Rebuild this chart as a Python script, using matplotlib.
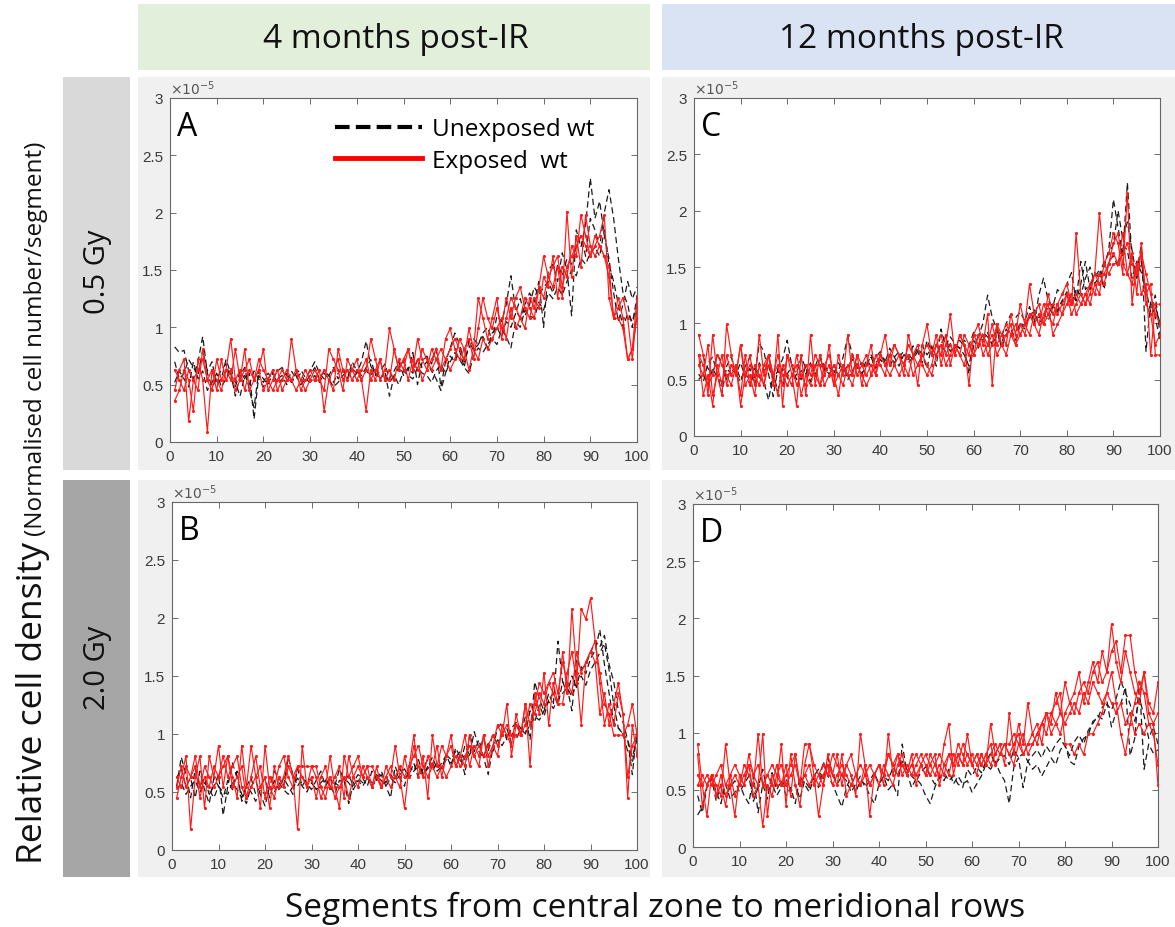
import matplotlib
matplotlib.use("Agg")
from matplotlib import pyplot as plt
from matplotlib.patches import Rectangle
from matplotlib.lines import Line2D
from matplotlib.ticker import FuncFormatter
import numpy as np

# segment index along the meridian
segments = np.arange(1, 101)

# cell density per segment, in units of 1e-5
# A: 4 months post-IR, 0.5 Gy
a_unexp = [
    [0.83, 0.78, 0.80, 0.62, 0.55, 0.70, 0.92, 0.60, 0.48, 0.55,
     0.63, 0.68, 0.55, 0.48, 0.62, 0.55, 0.60, 0.20, 0.58, 0.52,
     0.60, 0.55, 0.62, 0.65, 0.58, 0.52, 0.60, 0.63, 0.56, 0.62,
     0.70, 0.60, 0.55, 0.58, 0.65, 0.55, 0.62, 0.58, 0.64, 0.60,
     0.70, 0.88, 0.66, 0.60, 0.55, 0.62, 0.40, 0.58, 0.65, 0.70,
     0.62, 0.78, 0.50, 0.70, 0.75, 0.68, 0.82, 0.48, 0.70, 0.82,
     0.95, 0.85, 0.70, 0.82, 0.90, 0.85, 0.95, 1.00, 0.88, 1.10,
     1.05, 1.20, 1.45, 1.15, 1.08, 1.20, 1.30, 1.22, 1.40, 1.00,
     1.50, 1.55, 1.40, 1.65, 1.50, 1.10, 1.85, 1.70, 1.90, 2.30,
     1.95, 2.10, 1.80, 1.60, 1.30, 1.05, 1.20, 1.40, 1.25, 1.35],
    [0.70, 0.55, 0.60, 0.72, 0.65, 0.58, 0.80, 0.62, 0.70, 0.50,
     0.55, 0.72, 0.60, 0.40, 0.58, 0.65, 0.45, 0.30, 0.62, 0.55,
     0.50, 0.60, 0.55, 0.58, 0.50, 0.62, 0.55, 0.60, 0.52, 0.58,
     0.65, 0.55, 0.62, 0.58, 0.52, 0.60, 0.65, 0.55, 0.70, 0.62,
     0.58, 0.65, 0.72, 0.58, 0.62, 0.68, 0.55, 0.62, 0.70, 0.58,
     0.65, 0.60, 0.72, 0.65, 0.70, 0.62, 0.55, 0.45, 0.60, 0.75,
     0.70, 0.80, 0.65, 0.88, 0.80, 0.85, 0.92, 0.82, 0.95, 1.00,
     0.92, 1.05, 1.00, 1.12, 1.25, 1.10, 1.20, 1.35, 1.28, 1.35,
     1.40, 1.30, 1.55, 1.45, 1.60, 1.55, 1.70, 1.80, 1.62, 1.95,
     1.85, 1.70, 2.00, 2.20, 1.95, 1.60, 1.30, 1.20, 1.00, 1.28],
    [0.52, 0.62, 0.55, 0.48, 0.70, 0.55, 0.62, 0.45, 0.52, 0.60,
     0.48, 0.55, 0.65, 0.52, 0.40, 0.58, 0.50, 0.62, 0.55, 0.48,
     0.55, 0.62, 0.50, 0.55, 0.60, 0.52, 0.58, 0.50, 0.55, 0.52,
     0.58, 0.52, 0.60, 0.55, 0.48, 0.52, 0.58, 0.62, 0.55, 0.60,
     0.55, 0.62, 0.58, 0.65, 0.55, 0.60, 0.52, 0.58, 0.50, 0.62,
     0.58, 0.55, 0.65, 0.60, 0.58, 0.52, 0.62, 0.68, 0.60, 0.70,
     0.78, 0.72, 0.65, 0.60, 0.75, 0.82, 0.78, 0.85, 0.90, 0.85,
     0.98, 0.92, 0.82, 1.05, 1.00, 1.15, 1.10, 1.08, 1.22, 1.15,
     1.30, 1.25, 1.35, 1.28, 1.40, 1.50, 1.45, 1.60, 1.55, 1.65,
     1.70, 1.62, 1.85, 1.55, 1.40, 1.20, 1.00, 1.12, 1.05, 1.22],
]
a_exp = [
    [0.36, 0.45, 0.63, 0.54, 0.27, 0.72, 0.54, 0.09, 0.63, 0.45,
     0.72, 0.54, 0.63, 0.45, 0.54, 0.81, 0.45, 0.54, 0.63, 0.45,
     0.54, 0.63, 0.45, 0.54, 0.63, 0.54, 0.45, 0.54, 0.63, 0.54,
     0.54, 0.63, 0.27, 0.54, 0.63, 0.72, 0.54, 0.63, 0.54, 0.63,
     0.54, 0.27, 0.63, 0.54, 0.72, 0.54, 0.63, 0.54, 0.72, 0.63,
     0.81, 0.63, 0.72, 0.54, 0.63, 0.72, 0.81, 0.63, 0.72, 0.63,
     0.72, 0.90, 0.81, 0.63, 0.81, 0.72, 0.90, 0.81, 0.90, 0.99,
     1.08, 0.90, 1.17, 0.99, 1.08, 1.26, 1.17, 1.08, 1.35, 1.26,
     1.44, 1.53, 1.62, 1.35, 1.53, 1.62, 1.71, 1.80, 1.71, 1.62,
     1.71, 1.80, 1.98, 1.26, 1.08, 1.08, 0.99, 0.72, 0.81, 1.08],
    [0.45, 0.63, 0.72, 0.18, 0.54, 0.63, 0.72, 0.54, 0.45, 0.72,
     0.54, 0.63, 0.54, 0.81, 0.54, 0.63, 0.72, 0.54, 0.63, 0.81,
     0.45, 0.54, 0.63, 0.45, 0.54, 0.54, 0.63, 0.45, 0.54, 0.63,
     0.54, 0.54, 0.63, 0.54, 0.45, 0.81, 0.63, 0.54, 0.63, 0.54,
     0.63, 0.72, 0.54, 0.63, 0.72, 0.54, 0.54, 0.81, 0.63, 0.72,
     0.54, 0.72, 0.63, 0.81, 0.72, 0.63, 0.72, 0.81, 0.72, 0.81,
     0.90, 0.81, 0.72, 0.99, 0.81, 1.26, 1.08, 0.90, 1.08, 1.26,
     0.90, 1.08, 1.26, 1.17, 1.08, 0.99, 1.26, 1.17, 1.35, 1.62,
     1.44, 1.35, 1.53, 1.26, 2.01, 1.44, 1.80, 1.53, 1.98, 1.71,
     1.62, 1.71, 1.62, 1.44, 1.08, 1.17, 1.26, 1.08, 0.72, 1.17],
    [0.63, 0.54, 0.45, 0.63, 0.54, 0.45, 0.81, 0.54, 0.63, 0.54,
     0.45, 0.63, 0.90, 0.54, 0.63, 0.45, 0.63, 0.54, 0.72, 0.63,
     0.54, 0.45, 0.54, 0.63, 0.54, 0.90, 0.63, 0.54, 0.45, 0.54,
     0.63, 0.54, 0.45, 0.81, 0.72, 0.63, 0.45, 0.72, 0.63, 0.72,
     0.54, 0.63, 0.90, 0.72, 0.54, 0.63, 0.99, 0.81, 0.63, 0.72,
     0.81, 0.63, 0.90, 0.72, 0.63, 0.81, 0.72, 0.63, 0.90, 0.99,
     0.81, 0.72, 0.81, 0.90, 0.72, 0.99, 1.26, 1.08, 0.99, 1.17,
     0.99, 1.26, 1.08, 1.26, 1.35, 1.17, 1.08, 1.26, 1.17, 1.44,
     1.35, 1.62, 1.26, 1.53, 1.44, 1.71, 1.62, 1.98, 1.80, 1.62,
     1.80, 1.71, 1.62, 1.53, 1.08, 1.26, 1.08, 0.72, 0.81, 1.26],
]

# B: 4 months post-IR, 2.0 Gy
b_unexp = [
    [0.55, 0.80, 0.65, 0.45, 0.70, 0.55, 0.62, 0.48, 0.55, 0.65,
     0.30, 0.55, 0.75, 0.62, 0.48, 0.40, 0.55, 0.60, 0.48, 0.38,
     0.55, 0.68, 0.62, 0.55, 0.80, 0.65, 0.55, 0.62, 0.58, 0.52,
     0.60, 0.68, 0.55, 0.62, 0.55, 0.70, 0.60, 0.40, 0.58, 0.65,
     0.62, 0.55, 0.68, 0.60, 0.65, 0.55, 0.45, 0.72, 0.62, 0.55,
     0.72, 0.68, 0.78, 0.65, 0.72, 0.80, 0.70, 0.75, 0.82, 0.72,
     0.88, 0.80, 0.65, 1.00, 0.85, 0.95, 0.80, 0.65, 0.88, 1.05,
     1.10, 0.95, 1.05, 1.10, 1.00, 1.15, 0.95, 1.45, 1.30, 1.20,
     1.35, 1.25, 1.80, 1.45, 1.40, 1.20, 1.65, 1.55, 1.60, 1.70,
     1.80, 1.75, 1.85, 1.60, 1.45, 1.20, 1.10, 0.95, 0.65, 1.05],
    [0.62, 0.70, 0.55, 0.62, 0.45, 0.68, 0.52, 0.40, 0.62, 0.55,
     0.45, 0.60, 0.52, 0.68, 0.42, 0.55, 0.62, 0.48, 0.55, 0.62,
     0.45, 0.60, 0.52, 0.62, 0.55, 0.48, 0.70, 0.55, 0.62, 0.60,
     0.52, 0.58, 0.62, 0.55, 0.48, 0.60, 0.58, 0.65, 0.55, 0.62,
     0.58, 0.62, 0.55, 0.60, 0.68, 0.58, 0.65, 0.60, 0.70, 0.62,
     0.65, 0.75, 0.62, 0.70, 0.78, 0.68, 0.75, 0.70, 0.82, 0.78,
     0.85, 0.75, 0.90, 0.82, 1.02, 0.88, 0.95, 0.85, 1.00, 0.90,
     1.00, 1.05, 0.92, 1.10, 1.05, 1.00, 1.20, 1.10, 1.25, 1.15,
     1.30, 1.35, 1.25, 1.45, 1.35, 1.50, 1.40, 1.58, 1.52, 1.65,
     1.72, 1.90, 1.60, 1.35, 1.10, 1.05, 1.00, 0.85, 0.75, 1.00],
    [0.52, 0.58, 0.48, 0.55, 0.60, 0.50, 0.58, 0.52, 0.45, 0.55,
     0.50, 0.48, 0.58, 0.52, 0.45, 0.55, 0.50, 0.42, 0.52, 0.48,
     0.55, 0.50, 0.58, 0.52, 0.48, 0.55, 0.62, 0.55, 0.50, 0.58,
     0.52, 0.55, 0.60, 0.52, 0.58, 0.55, 0.62, 0.58, 0.52, 0.60,
     0.55, 0.62, 0.58, 0.65, 0.60, 0.55, 0.62, 0.58, 0.65, 0.70,
     0.62, 0.68, 0.72, 0.65, 0.70, 0.75, 0.68, 0.72, 0.78, 0.75,
     0.80, 0.85, 0.78, 0.82, 0.90, 0.85, 0.80, 0.92, 0.85, 0.95,
     0.90, 0.98, 1.02, 0.95, 1.05, 1.00, 1.08, 1.15, 1.12, 1.20,
     1.28, 1.22, 1.30, 1.35, 1.40, 1.32, 1.45, 1.50, 1.42, 1.55,
     1.62, 1.70, 1.78, 1.55, 1.25, 1.05, 1.00, 0.95, 0.80, 0.95],
]
b_exp = [
    [0.45, 0.63, 0.81, 0.18, 0.63, 0.81, 0.36, 0.81, 0.63, 0.90,
     0.54, 0.81, 0.63, 0.45, 0.90, 0.54, 0.90, 0.63, 0.36, 0.90,
     0.54, 0.45, 0.63, 0.54, 0.72, 0.63, 0.18, 0.90, 0.54, 0.72,
     0.63, 0.45, 0.54, 0.81, 0.54, 0.36, 0.81, 0.63, 0.72, 0.81,
     0.63, 0.72, 0.54, 0.63, 0.54, 0.72, 0.63, 0.90, 0.63, 0.36,
     0.72, 0.99, 0.63, 0.81, 0.45, 0.99, 0.72, 0.90, 0.81, 0.99,
     0.72, 0.81, 0.99, 0.72, 0.90, 0.81, 0.99, 0.72, 0.90, 1.08,
     0.99, 1.26, 0.81, 1.08, 0.99, 1.26, 0.72, 1.35, 1.17, 1.53,
     1.08, 1.44, 1.26, 1.71, 1.35, 2.08, 1.53, 1.08, 1.62, 1.71,
     1.62, 1.17, 1.35, 1.08, 1.26, 1.44, 1.17, 0.45, 1.08, 0.81],
    [0.54, 0.72, 0.54, 0.63, 0.72, 0.45, 0.63, 0.54, 0.72, 0.63,
     0.81, 0.63, 0.72, 0.81, 0.54, 0.45, 0.54, 0.63, 0.72, 0.45,
     0.63, 0.54, 0.72, 0.81, 0.63, 0.54, 0.72, 0.72, 0.72, 0.72,
     0.72, 0.54, 0.45, 0.63, 0.45, 0.54, 0.63, 0.45, 0.63, 0.72,
     0.63, 0.72, 0.72, 0.63, 0.54, 0.63, 0.54, 0.63, 0.72, 0.63,
     0.72, 0.81, 0.90, 0.72, 0.63, 0.72, 0.63, 0.72, 0.63, 0.72,
     0.81, 0.72, 0.81, 0.90, 0.81, 0.90, 0.81, 0.90, 0.99, 0.90,
     0.99, 1.08, 0.99, 0.99, 0.99, 1.08, 1.26, 1.17, 1.35, 1.26,
     1.44, 1.35, 1.26, 1.26, 1.53, 1.71, 1.44, 2.08, 1.99, 2.17,
     1.80, 1.53, 1.26, 1.17, 0.99, 0.99, 0.99, 1.08, 1.26, 0.99],
    [0.63, 0.54, 0.72, 0.63, 0.81, 0.54, 0.72, 0.63, 0.54, 0.63,
     0.72, 0.81, 0.54, 0.63, 0.72, 0.45, 0.63, 0.81, 0.54, 0.63,
     0.36, 0.72, 0.54, 0.63, 0.81, 0.63, 0.72, 0.63, 0.54, 0.63,
     0.45, 0.63, 0.72, 0.54, 0.63, 0.72, 0.45, 0.81, 0.63, 0.54,
     0.72, 0.63, 0.54, 0.72, 0.54, 0.63, 0.72, 0.63, 0.54, 0.81,
     0.63, 0.90, 0.72, 0.63, 0.81, 0.72, 0.90, 0.63, 0.81, 0.90,
     0.72, 0.81, 0.72, 0.99, 0.81, 0.72, 0.99, 0.81, 0.90, 0.81,
     1.08, 0.99, 0.90, 1.17, 0.99, 1.26, 1.08, 1.26, 1.44, 1.35,
     1.44, 1.53, 1.35, 1.62, 1.44, 1.35, 1.71, 1.53, 1.62, 1.71,
     1.80, 1.44, 1.08, 1.26, 1.08, 1.35, 1.17, 0.63, 0.90, 0.99],
]

# C: 12 months post-IR, 0.5 Gy
c_unexp = [
    [0.55, 0.48, 0.65, 0.70, 0.55, 0.38, 0.62, 0.70, 0.55, 0.48,
     0.62, 0.70, 0.52, 0.82, 0.75, 0.55, 0.35, 0.60, 0.68, 0.85,
     0.62, 0.55, 0.70, 0.60, 0.48, 0.62, 0.72, 0.60, 0.55, 0.62,
     0.58, 0.70, 0.88, 0.72, 0.62, 0.55, 0.68, 0.62, 0.70, 0.75,
     0.65, 0.78, 0.70, 0.62, 0.72, 0.68, 0.80, 0.75, 0.65, 0.85,
     0.75, 0.62, 0.95, 0.80, 0.88, 0.82, 0.78, 0.85, 0.80, 0.92,
     0.88, 1.00, 1.25, 1.05, 0.95, 0.88, 1.00, 1.08, 1.05, 1.10,
     1.02, 1.15, 1.00, 1.25, 1.40, 1.20, 1.15, 1.30, 1.25, 1.35,
     1.45, 1.20, 1.35, 1.55, 1.30, 1.45, 1.40, 1.50, 1.65, 2.10,
     1.85, 1.60, 2.25, 1.55, 1.45, 1.70, 0.75, 1.20, 1.05, 0.85],
    [0.50, 0.55, 0.45, 0.60, 0.52, 0.48, 0.60, 0.55, 0.62, 0.50,
     0.58, 0.45, 0.60, 0.52, 0.48, 0.32, 0.55, 0.40, 0.60, 0.52,
     0.45, 0.55, 0.50, 0.62, 0.48, 0.55, 0.60, 0.65, 0.52, 0.58,
     0.55, 0.62, 0.50, 0.58, 0.65, 0.55, 0.62, 0.70, 0.60, 0.68,
     0.62, 0.72, 0.65, 0.70, 0.75, 0.65, 0.70, 0.78, 0.72, 0.60,
     0.80, 0.70, 0.82, 0.88, 0.75, 0.80, 0.78, 0.72, 0.62, 0.85,
     0.78, 0.92, 0.88, 0.82, 0.95, 0.78, 0.90, 0.95, 0.85, 1.00,
     0.95, 1.08, 1.10, 1.00, 1.05, 1.15, 1.08, 1.12, 1.20, 1.28,
     1.15, 1.30, 1.25, 1.40, 1.50, 1.35, 1.42, 1.55, 1.62, 1.70,
     2.00, 1.75, 1.90, 1.65, 1.40, 1.55, 1.20, 1.05, 1.15, 1.00],
    [0.62, 0.70, 0.60, 0.55, 0.72, 0.65, 0.50, 0.60, 0.55, 0.65,
     0.52, 0.60, 0.45, 0.65, 0.58, 0.62, 0.50, 0.58, 0.45, 0.55,
     0.62, 0.50, 0.58, 0.55, 0.65, 0.52, 0.70, 0.58, 0.62, 0.55,
     0.65, 0.58, 0.62, 0.68, 0.60, 0.65, 0.62, 0.72, 0.65, 0.70,
     0.68, 0.62, 0.70, 0.75, 0.65, 0.72, 0.68, 0.75, 0.80, 0.72,
     0.78, 0.72, 0.80, 0.75, 0.82, 0.78, 0.85, 0.80, 0.55, 0.80,
     0.88, 0.85, 0.92, 0.80, 0.90, 0.82, 0.95, 0.88, 0.92, 1.00,
     0.98, 1.05, 1.12, 1.05, 1.10, 1.02, 1.15, 1.10, 1.20, 1.18,
     1.25, 1.20, 1.55, 1.30, 1.35, 1.40, 1.48, 1.30, 1.55, 1.60,
     1.50, 1.70, 1.65, 1.40, 1.55, 1.45, 1.30, 1.10, 1.25, 0.90],
]
c_exp = [
    [0.90, 0.72, 0.36, 0.90, 0.54, 0.36, 0.99, 0.72, 0.54, 0.81,
     0.54, 0.72, 0.45, 0.90, 0.54, 0.72, 0.45, 0.90, 0.27, 0.72,
     0.54, 0.27, 0.72, 0.36, 0.90, 0.45, 0.72, 0.54, 0.81, 0.45,
     0.72, 0.54, 0.90, 0.54, 0.72, 0.45, 0.63, 0.81, 0.54, 0.72,
     0.90, 0.63, 0.81, 0.72, 0.54, 0.90, 0.72, 0.45, 0.81, 0.99,
     0.72, 0.90, 0.63, 0.81, 1.08, 0.72, 0.90, 0.81, 0.45, 0.90,
     0.99, 0.81, 1.08, 0.45, 0.99, 0.90, 0.81, 1.08, 0.90, 1.17,
     0.99, 1.35, 1.08, 1.17, 0.99, 1.26, 1.08, 1.17, 1.26, 1.35,
     1.17, 1.80, 1.26, 1.17, 1.35, 1.44, 1.98, 1.53, 1.62, 1.80,
     1.71, 1.44, 2.16, 1.17, 1.53, 1.26, 1.35, 0.72, 1.17, 1.17],
    [0.72, 0.63, 0.45, 0.54, 0.72, 0.63, 0.54, 0.45, 0.63, 0.27,
     0.54, 0.63, 0.54, 0.45, 0.63, 0.72, 0.54, 0.63, 0.45, 0.72,
     0.63, 0.45, 0.54, 0.63, 0.54, 0.72, 0.63, 0.45, 0.54, 0.63,
     0.54, 0.63, 0.54, 0.72, 0.54, 0.63, 0.72, 0.54, 0.63, 0.72,
     0.63, 0.72, 0.81, 0.72, 0.63, 0.81, 0.72, 0.63, 0.72, 0.81,
     0.72, 0.81, 0.90, 0.72, 0.81, 0.72, 0.90, 0.81, 0.72, 0.90,
     0.81, 0.90, 0.81, 0.99, 0.81, 0.90, 0.99, 0.90, 0.99, 0.90,
     0.99, 1.08, 0.99, 1.08, 0.99, 1.08, 1.17, 1.08, 1.17, 1.26,
     1.17, 1.26, 1.17, 1.26, 1.35, 1.26, 1.44, 1.35, 1.53, 1.62,
     1.53, 1.62, 1.71, 1.53, 1.44, 1.62, 1.44, 1.26, 1.08, 0.99],
    [0.63, 0.54, 0.81, 0.36, 0.54, 0.72, 0.45, 0.63, 0.54, 0.81,
     0.45, 0.54, 0.36, 0.63, 0.45, 0.72, 0.54, 0.36, 0.63, 0.54,
     0.45, 0.72, 0.54, 0.45, 0.63, 0.54, 0.45, 0.63, 0.72, 0.54,
     0.36, 0.63, 0.54, 0.45, 0.63, 0.54, 0.45, 0.54, 0.72, 0.63,
     0.54, 0.72, 0.63, 0.54, 0.63, 0.72, 0.54, 0.63, 0.72, 0.63,
     0.54, 0.72, 0.81, 0.63, 0.72, 0.81, 0.72, 0.63, 0.81, 0.72,
     0.90, 0.72, 0.81, 0.90, 0.72, 0.81, 0.90, 0.99, 0.81, 0.90,
     0.99, 0.90, 1.08, 0.99, 1.17, 1.08, 0.99, 1.17, 1.08, 1.26,
     1.08, 1.17, 1.26, 1.17, 1.26, 1.44, 1.35, 1.44, 1.53, 1.71,
     1.80, 1.53, 1.44, 1.62, 1.26, 1.71, 1.17, 1.08, 0.81, 0.90],
    [0.72, 0.36, 0.54, 0.27, 0.63, 0.45, 0.72, 0.54, 0.63, 0.36,
     0.72, 0.45, 0.63, 0.54, 0.45, 0.63, 0.54, 0.72, 0.54, 0.45,
     0.54, 0.63, 0.36, 0.54, 0.45, 0.63, 0.45, 0.54, 0.63, 0.45,
     0.54, 0.45, 0.63, 0.54, 0.72, 0.63, 0.54, 0.63, 0.54, 0.72,
     0.63, 0.54, 0.63, 0.72, 0.63, 0.54, 0.72, 0.81, 0.63, 0.54,
     0.63, 0.81, 0.72, 0.90, 0.63, 0.81, 0.72, 0.90, 0.81, 0.72,
     0.81, 0.90, 0.72, 0.81, 0.99, 0.81, 0.72, 0.90, 0.81, 0.99,
     0.90, 1.08, 0.99, 0.90, 1.08, 1.17, 0.90, 0.99, 1.08, 1.17,
     1.26, 1.08, 1.17, 1.26, 1.17, 1.35, 1.26, 1.53, 1.44, 1.53,
     1.53, 1.80, 1.44, 1.35, 1.53, 1.62, 1.26, 1.35, 0.72, 0.72],
]

# D: 12 months post-IR, 2.0 Gy
d_unexp = [
    [0.28, 0.35, 0.55, 0.62, 0.48, 0.38, 0.55, 0.42, 0.48, 0.55,
     0.45, 0.38, 0.62, 0.30, 0.55, 0.42, 0.65, 0.50, 0.58, 0.45,
     0.52, 0.38, 0.62, 0.55, 0.48, 0.60, 0.52, 0.75, 0.62, 0.55,
     0.45, 0.35, 0.52, 0.62, 0.48, 0.58, 0.55, 0.45, 0.38, 0.55,
     0.62, 0.50, 0.55, 0.45, 0.90, 0.65, 0.52, 0.60, 0.55, 0.45,
     0.38, 0.52, 0.62, 0.58, 0.68, 0.55, 0.62, 0.55, 0.58, 0.48,
     0.55, 0.62, 0.72, 0.68, 0.75, 0.65, 0.58, 0.38, 0.70, 0.78,
     0.52, 0.75, 0.68, 0.72, 0.62, 0.70, 0.78, 0.72, 0.85, 0.90,
     0.75, 0.72, 0.88, 0.95, 0.98, 1.10, 1.12, 1.22, 1.28, 1.05,
     1.18, 1.25, 1.40, 0.80, 0.95, 1.45, 0.68, 0.90, 0.82, 0.85],
    [0.45, 0.30, 0.52, 0.60, 0.40, 0.55, 0.45, 0.52, 0.58, 0.48,
     0.55, 0.62, 0.40, 0.52, 0.68, 0.48, 0.55, 0.45, 0.52, 0.60,
     0.48, 0.55, 0.42, 0.58, 0.52, 0.62, 0.68, 0.58, 0.78, 0.65,
     0.55, 0.62, 0.58, 0.48, 0.55, 0.62, 0.52, 0.58, 0.65, 0.55,
     0.62, 0.58, 0.70, 0.62, 0.75, 0.68, 0.62, 0.58, 0.65, 0.70,
     0.62, 0.55, 0.60, 0.65, 0.58, 0.62, 0.55, 0.52, 0.68, 0.62,
     0.70, 0.65, 0.75, 0.82, 0.72, 0.78, 0.80, 0.72, 0.85, 0.78,
     0.82, 0.75, 0.80, 0.85, 0.78, 0.88, 0.82, 0.90, 0.95, 0.88,
     0.80, 0.92, 0.98, 0.90, 1.02, 1.08, 1.15, 1.12, 1.25, 1.20,
     1.30, 1.45, 1.35, 1.25, 1.10, 1.30, 1.15, 0.95, 1.05, 0.90],
]
d_exp = [
    [0.90, 0.54, 0.27, 0.63, 0.54, 0.45, 0.90, 0.54, 0.27, 0.63,
     0.54, 0.81, 0.63, 0.54, 0.99, 0.27, 0.63, 0.54, 0.90, 0.36,
     0.81, 0.54, 0.36, 0.72, 0.90, 0.63, 0.27, 0.54, 0.72, 0.63,
     0.81, 0.54, 0.72, 0.63, 0.45, 0.99, 0.72, 0.27, 0.63, 0.72,
     0.54, 0.99, 0.63, 0.81, 0.72, 0.63, 0.81, 0.54, 0.72, 0.63,
     0.81, 0.72, 0.63, 0.90, 1.08, 0.63, 0.81, 0.72, 0.99, 0.72,
     0.63, 0.81, 0.72, 1.08, 0.81, 0.90, 0.72, 1.17, 0.81, 1.08,
     0.90, 1.26, 0.99, 1.08, 0.90, 1.17, 1.08, 1.35, 1.17, 1.44,
     1.26, 1.35, 1.53, 1.26, 1.44, 1.62, 1.44, 1.71, 1.53, 1.95,
     1.62, 1.44, 1.71, 1.53, 1.35, 1.26, 1.53, 1.17, 1.08, 0.54],
    [0.81, 0.36, 0.54, 0.63, 0.45, 0.54, 0.36, 0.63, 0.45, 0.54,
     0.63, 0.72, 0.45, 0.54, 0.18, 0.54, 0.45, 0.63, 0.54, 0.72,
     0.45, 0.81, 0.54, 0.63, 0.72, 0.54, 0.63, 0.54, 0.81, 0.63,
     0.54, 0.81, 0.45, 0.54, 0.63, 0.54, 0.72, 0.54, 0.63, 0.54,
     0.72, 0.63, 0.54, 0.72, 0.81, 0.63, 0.72, 0.81, 0.72, 0.63,
     0.72, 0.81, 0.54, 0.72, 0.63, 0.81, 0.72, 0.90, 0.81, 0.72,
     0.81, 0.72, 0.81, 0.90, 0.72, 0.81, 0.90, 0.81, 0.72, 0.90,
     0.99, 0.81, 0.90, 0.99, 1.08, 0.99, 1.17, 1.08, 0.99, 1.17,
     1.26, 1.17, 1.35, 1.44, 1.35, 1.53, 1.62, 1.44, 1.53, 1.71,
     1.80, 1.53, 1.85, 1.85, 1.53, 1.35, 1.53, 1.26, 1.17, 1.44],
    [0.54, 0.63, 0.54, 0.63, 0.45, 0.63, 0.45, 0.54, 0.63, 0.54,
     0.72, 0.63, 0.54, 0.99, 0.54, 0.63, 0.54, 0.72, 0.54, 0.63,
     0.72, 0.81, 0.54, 0.63, 0.54, 0.63, 0.54, 0.63, 0.72, 0.54,
     0.63, 0.72, 0.63, 0.54, 0.63, 0.54, 0.63, 0.54, 0.63, 0.72,
     0.63, 0.81, 0.72, 0.81, 0.63, 0.72, 0.63, 0.72, 0.81, 0.72,
     0.63, 0.72, 0.81, 0.72, 0.81, 0.72, 0.90, 0.81, 0.72, 0.81,
     0.72, 0.81, 0.72, 0.81, 0.90, 0.81, 0.90, 0.81, 0.90, 0.99,
     0.81, 0.90, 0.99, 0.90, 1.08, 1.17, 0.99, 1.08, 1.17, 1.08,
     1.17, 1.26, 1.17, 1.35, 1.26, 1.44, 1.35, 1.26, 1.35, 1.26,
     1.17, 1.26, 1.08, 1.17, 0.99, 1.08, 0.99, 1.08, 1.08, 1.17],
    [0.63, 0.54, 0.63, 0.54, 0.63, 0.72, 0.54, 0.63, 0.72, 0.63,
     0.54, 0.72, 0.63, 0.72, 0.54, 0.63, 0.72, 0.63, 0.72, 0.54,
     0.63, 0.72, 0.54, 0.90, 0.90, 0.72, 0.63, 0.72, 0.63, 0.81,
     0.72, 0.63, 0.72, 0.81, 0.63, 0.72, 0.63, 0.72, 0.63, 0.72,
     0.63, 0.81, 0.72, 0.63, 0.72, 0.63, 0.72, 0.63, 0.72, 0.81,
     0.72, 0.63, 0.72, 0.63, 0.81, 0.72, 0.81, 0.72, 0.81, 0.72,
     0.81, 0.72, 0.81, 0.72, 0.81, 0.90, 0.90, 0.90, 0.99, 0.90,
     0.81, 0.90, 0.90, 0.99, 1.08, 1.17, 1.17, 1.26, 1.35, 0.90,
     0.90, 0.81, 0.90, 0.81, 0.99, 0.99, 1.08, 1.17, 1.35, 1.53,
     1.26, 0.99, 0.81, 1.08, 1.26, 1.44, 1.35, 1.08, 0.99, 0.72],
]

col_titles = ["4 months post-IR", "12 months post-IR"]
row_titles = ["0.5 Gy", "2.0 Gy"]
panel_letters = ["A", "C", "B", "D"]
x_ticks = list(range(0, 101, 10))
y_ticks = [0, 0.5, 1, 1.5, 2, 2.5, 3]

W, H = 1175, 928
fig = plt.figure(figsize=(W / 100, H / 100), dpi=100)
fig.patch.set_facecolor("white")


def frac_rect(x0, y0, x1, y1):
    # pixel box (top-left origin) -> figure fraction
    return (x0 / W, 1 - y1 / H), (x1 - x0) / W, (y1 - y0) / H


def add_box(x0, y0, x1, y1, color):
    xy, w, h = frac_rect(x0, y0, x1, y1)
    fig.patches.append(Rectangle(xy, w, h, transform=fig.transFigure,
                                 facecolor=color, edgecolor="none", zorder=-1))


# column headers
add_box(138, 5, 650, 71, "#e2efda")
add_box(662, 5, 1175, 71, "#dae3f3")
# panel backgrounds
for (x0, x1) in [(138, 650), (662, 1175)]:
    for (y0, y1) in [(78, 471), (481, 878)]:
        add_box(x0, y0, x1, y1, "#f0f0f0")
# row headers
add_box(63, 78, 130, 471, "#d9d9d9")
add_box(63, 481, 130, 878, "#a6a6a6")

txt_font = ["Open Sans", "DejaVu Sans"]
tick_font = ["Liberation Sans", "DejaVu Sans"]

fig.text(396 / W, 1 - 40 / H, col_titles[0], ha="center", va="center",
         fontsize=24, family=txt_font, color="#111111")
fig.text(921 / W, 1 - 40 / H, col_titles[1], ha="center", va="center",
         fontsize=24, family=txt_font, color="#111111")
fig.text(98 / W, 1 - 272 / H, row_titles[0], ha="center", va="center",
         rotation=90, fontsize=21, family=txt_font, color="#111111")
fig.text(98 / W, 1 - 668 / H, row_titles[1], ha="center", va="center",
         rotation=90, fontsize=21, family=txt_font, color="#111111")

# axes boxes in pixels: left, top, right, bottom
boxes = [(170, 99, 637, 443), (694, 99, 1160, 437),
         (172, 503, 637, 851), (693, 505, 1158, 848)]
groups = [(a_unexp, a_exp), (c_unexp, c_exp), (b_unexp, b_exp), (d_unexp, d_exp)]

fmt = FuncFormatter(lambda v, p: "%g" % round(v / 1e-5, 2))
axes = []
for (l, t, r, b), (unexp, exp), letter in zip(boxes, groups, panel_letters):
    ax = fig.add_axes([l / W, 1 - b / H, (r - l) / W, (b - t) / H])
    ax.set_facecolor("white")
    for s in unexp:
        ax.plot(segments, np.array(s) * 1e-5, color="#1a1a1a", lw=0.9,
                dashes=(5, 3), zorder=2)
    for s in exp:
        ax.plot(segments, np.array(s) * 1e-5, color="#ff1a1a", lw=0.85,
                marker=".", markersize=2.5, zorder=3)
    ax.set_xlim(0, 100)
    ax.set_ylim(0, 3e-5)
    ax.set_xticks(x_ticks)
    ax.set_yticks([v * 1e-5 for v in y_ticks])
    ax.yaxis.set_major_formatter(fmt)
    ax.tick_params(direction="in", length=4, width=0.6, colors="#555555",
                   labelcolor="#3a3a3a", labelsize=11, top=True, right=True,
                   pad=5)
    for lab in ax.get_xticklabels() + ax.get_yticklabels():
        lab.set_family(tick_font)
    for sp in ax.spines.values():
        sp.set_color("#666666")
        sp.set_linewidth(0.8)
    ax.text(0.0, 1.004, r"$\times10^{-5}$", transform=ax.transAxes,
            ha="left", va="bottom", fontsize=10, color="#555555",
            family=tick_font)
    ax.text(0.015, 0.965, letter, transform=ax.transAxes, ha="left", va="top",
            fontsize=23, family=txt_font, color="black")
    axes.append(ax)

handles = [Line2D([], [], color="black", lw=3, dashes=(3.5, 1.5)),
           Line2D([], [], color="#ff0000", lw=3.5)]
axes[0].legend(handles, ["Unexposed wt", "Exposed  wt"], loc="upper right",
               bbox_to_anchor=(0.95, 1.0), frameon=False, handlelength=3.6,
               handletextpad=0.4, labelspacing=0.3, borderaxespad=0.4,
               prop={"family": "Open Sans", "size": 17.5})

fig.text(655 / W, 1 - 908 / H, "Segments from central zone to meridional rows",
         ha="center", va="center", fontsize=24, family=txt_font, color="#111111")

# y label in two sizes sharing one baseline
base_x = 42 / W
t1 = fig.text(base_x, 1 - 864 / H, "Relative cell density", rotation=90,
              rotation_mode="anchor", ha="left", va="baseline", fontsize=25.5,
              family=txt_font, color="#111111")
fig.canvas.draw()
top = t1.get_window_extent().y1 / fig.bbox.height
fig.text(base_x, top + 6 / H, "(Normalised cell number/segment)", rotation=90,
         rotation_mode="anchor", ha="left", va="baseline", fontsize=17.5,
         family=["Liberation Sans Narrow", "Open Sans", "DejaVu Sans"],
         color="#111111")

fig.savefig("out.png", dpi=100)
